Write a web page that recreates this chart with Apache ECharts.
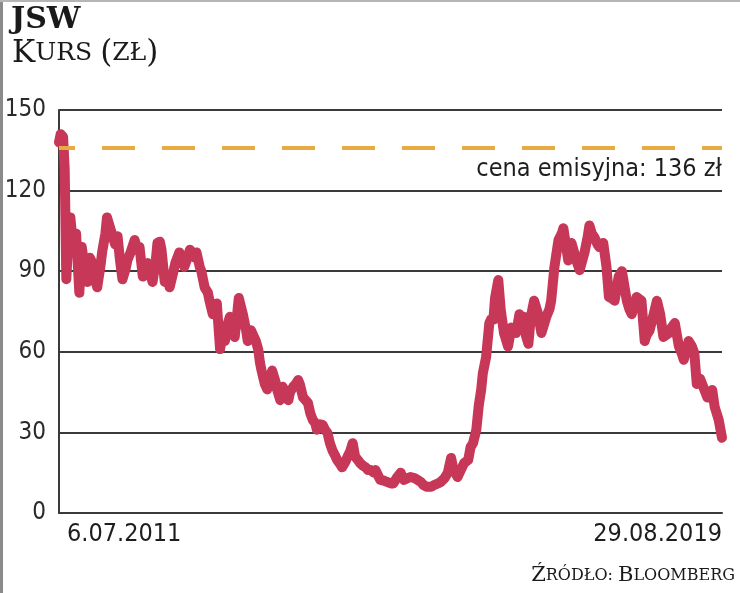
<!DOCTYPE html>
<html>
<head>
<meta charset="utf-8">
<script src="https://cdn.jsdelivr.net/npm/echarts@6/dist/echarts.min.js"></script>
<style>
  html, body { margin: 0; padding: 0; background: #fff; }
  #chart { width: 740px; height: 593px; }
</style>
</head>
<body>
<div id="chart"></div>
<script>
// czas (ułamek roku) i kurs JSW w zł
const years = [
  2011.51, 2011.53, 2011.56, 2011.58, 2011.60, 2011.62, 2011.65, 2011.68, 2011.72, 2011.76,
  2011.79, 2011.83, 2011.86, 2011.89, 2011.92, 2011.95, 2011.98, 2012.02, 2012.04, 2012.08,
  2012.10, 2012.14, 2012.16, 2012.20, 2012.23, 2012.26, 2012.29, 2012.33, 2012.35, 2012.39,
  2012.44, 2012.47, 2012.50, 2012.54, 2012.57, 2012.60, 2012.63, 2012.66, 2012.70, 2012.72,
  2012.75, 2012.77, 2012.81, 2012.84, 2012.87, 2012.91, 2012.94, 2012.99, 2013.03, 2013.05,
  2013.09, 2013.12, 2013.14, 2013.18, 2013.20, 2013.24, 2013.26, 2013.30, 2013.34, 2013.36,
  2013.40, 2013.45, 2013.49, 2013.52, 2013.55, 2013.58, 2013.61, 2013.65, 2013.67, 2013.70,
  2013.72, 2013.77, 2013.81, 2013.83, 2013.87, 2013.89, 2013.93, 2013.96, 2013.98, 2014.00,
  2014.04, 2014.07, 2014.10, 2014.13, 2014.17, 2014.19, 2014.23, 2014.26, 2014.29, 2014.33,
  2014.35, 2014.39, 2014.42, 2014.45, 2014.47, 2014.51, 2014.54, 2014.57, 2014.60, 2014.63,
  2014.66, 2014.68, 2014.72, 2014.75, 2014.78, 2014.81, 2014.84, 2014.87, 2014.91, 2014.93,
  2014.97, 2014.99, 2015.03, 2015.05, 2015.09, 2015.12, 2015.15, 2015.19, 2015.21, 2015.25,
  2015.28, 2015.31, 2015.34, 2015.38, 2015.40, 2015.44, 2015.46, 2015.51, 2015.55, 2015.59,
  2015.62, 2015.66, 2015.71, 2015.75, 2015.80, 2015.83, 2015.88, 2015.92, 2015.96, 2015.99,
  2016.03, 2016.05, 2016.09, 2016.12, 2016.17, 2016.20, 2016.25, 2016.29, 2016.33, 2016.36,
  2016.39, 2016.41, 2016.45, 2016.49, 2016.54, 2016.57, 2016.60, 2016.64, 2016.67, 2016.70,
  2016.72, 2016.76, 2016.80, 2016.82, 2016.85, 2016.87, 2016.91, 2016.94, 2016.98, 2017.01,
  2017.03, 2017.07, 2017.10, 2017.13, 2017.17, 2017.19, 2017.23, 2017.25, 2017.28, 2017.31,
  2017.35, 2017.40, 2017.44, 2017.47, 2017.50, 2017.54, 2017.56, 2017.60, 2017.65, 2017.69,
  2017.71, 2017.75, 2017.77, 2017.81, 2017.83, 2017.87, 2017.91, 2017.93, 2017.97, 2018.01,
  2018.03, 2018.06, 2018.09, 2018.13, 2018.15, 2018.20, 2018.24, 2018.27, 2018.30, 2018.34,
  2018.39, 2018.43, 2018.45, 2018.49, 2018.52, 2018.55, 2018.59, 2018.61, 2018.67, 2018.71,
  2018.73, 2018.77, 2018.82, 2018.86, 2018.90, 2018.94, 2019.01, 2019.04, 2019.08, 2019.13,
  2019.17, 2019.19, 2019.25, 2019.29, 2019.32, 2019.35, 2019.39, 2019.41, 2019.48, 2019.51,
  2019.54, 2019.57, 2019.62, 2019.66
]
const prices = [
  138, 141, 140, 128, 87, 100, 110, 100, 104, 82,
  99, 90, 86, 95, 93, 88, 84, 92, 97, 104,
  110, 106, 106, 100, 103, 94, 87, 91, 94, 97,
  101.6, 98, 99, 88, 91, 93, 89, 86, 94, 100.5,
  101, 98, 86, 88, 84, 89, 93, 97, 94, 91.6,
  95, 98, 97, 95, 97, 91.6, 90, 84, 82, 79,
  74, 78, 61, 66, 64, 70, 73, 68, 65.5, 74,
  80, 74, 68, 64, 68, 68, 64, 60.7, 56, 53,
  48, 46, 50, 53, 49, 46, 42, 47, 45, 42,
  45, 47, 48, 49.5, 48, 43, 42, 41, 37, 34.6,
  33.5, 31, 33, 32.8, 31, 29.8, 26, 23.4, 21, 19.7,
  18, 17, 19, 20.5, 23, 26, 21, 19.5, 18.6, 17.5,
  17, 16, 16, 15, 16, 13.5, 12.3, 12, 11.5, 11,
  11, 13, 15, 12.3, 13, 13.4, 13, 12.3, 11.5, 10.4,
  9.8, 9.3, 9.8, 10.4, 11, 11.5, 13, 15, 20.5, 16,
  14.5, 13.4, 16, 18.6, 19.7, 24.6, 26, 31, 40, 46,
  52, 58, 70.7, 72, 72, 80, 86.7, 75.6, 67, 64,
  62, 69, 68, 67, 74, 72, 73, 66, 63, 73,
  79, 74, 67, 70, 73, 76, 79, 91.6, 101.6, 104,
  106, 98, 94, 100.5, 100.5, 94, 90.4, 90.4, 97, 103,
  107, 104, 102.7, 100, 99, 100.5, 91.6, 80.4, 80, 79,
  88, 90, 90.4, 79, 76, 74, 78, 80.4, 79, 64,
  66, 68, 74, 79, 74, 65.5, 67, 69, 70.7, 62,
  59, 57, 64, 62, 59.5, 48, 50, 50.6, 43, 45,
  45.8, 39.5, 34.6, 28
]
const yTicks = [0, 30, 60, 90, 120, 150]
const xLabelValues = [2011.51, 2019.66]
const xLabels = ['6.07.2011', '29.08.2019']
const issuePrice = 136

const chart = echarts.init(document.getElementById('chart'))

const axisFont = '"DejaVu Sans Condensed", "DejaVu Sans", sans-serif'
const slabFont = '"DejaVu Serif", "Liberation Serif", serif'

const option = {
  animation: false,
  backgroundColor: '#fff',
  title: [
    {
      text: 'JSW',
      left: 6,
      top: 0,
      textStyle: { fontFamily: slabFont, fontWeight: 'bold', fontSize: 30, color: '#1a1a1a' }
    },
    {
      text: '{a|K}{b|URS }{a|(}{b|ZŁ}{a|)}',
      left: 7,
      top: 33,
      textStyle: {
        fontWeight: 'normal',
        rich: {
          a: { fontFamily: slabFont, fontWeight: 'normal', fontSize: 31, color: '#1a1a1a' },
          b: { fontFamily: slabFont, fontWeight: 'normal', fontSize: 25, color: '#1a1a1a' }
        }
      }
    },
    {
      text: '{a|Ź}{b|RÓDŁO: }{a|B}{b|LOOMBERG}',
      right: 0,
      bottom: 2,
      textStyle: {
        fontWeight: 'normal',
        rich: {
          a: { fontFamily: slabFont, fontWeight: 'normal', fontSize: 21, color: '#1a1a1a' },
          b: { fontFamily: slabFont, fontWeight: 'normal', fontSize: 16, color: '#1a1a1a' }
        }
      }
    }
  ],
  graphic: [
    { type: 'rect', left: 0, top: 0, shape: { width: 3, height: 593 }, style: { fill: '#8a8a8a' } },
    { type: 'rect', left: 0, top: 0, shape: { width: 740, height: 2 }, style: { fill: '#b5b5b5' } }
  ],
  grid: { left: 59, right: 18, top: 110, bottom: 80 },
  xAxis: {
    type: 'value',
    min: xLabelValues[0],
    max: xLabelValues[1],
    axisLine: { show: true, onZero: false, lineStyle: { color: '#3a3a3a', width: 2 } },
    axisTick: { show: false },
    splitLine: { show: false },
    axisLabel: {
      customValues: xLabelValues,
      formatter: v => xLabels[xLabelValues.indexOf(v)] ?? '',
      alignMinLabel: 'left',
      alignMaxLabel: 'right',
      padding: [0, 0, 0, 8],
      margin: 9,
      fontFamily: axisFont,
      fontSize: 25,
      color: '#1e1e1e'
    }
  },
  yAxis: {
    type: 'value',
    min: yTicks[0],
    max: yTicks[yTicks.length - 1],
    interval: 30,
    axisLine: { show: true, lineStyle: { color: '#3a3a3a', width: 2 } },
    axisTick: { show: false },
    splitLine: { show: true, lineStyle: { color: '#3a3a3a', width: 2 } },
    axisLabel: {
      margin: 13,
      fontFamily: axisFont,
      fontSize: 24,
      color: '#2a2a2a'
    }
  },
  series: [
    {
      name: 'JSW',
      type: 'line',
      data: years.map((y, i) => [y, prices[i]]),
      showSymbol: false,
      z: 2,
      lineStyle: { color: '#c63758', width: 10, cap: 'round', join: 'round' }
    },
    {
      name: 'cena emisyjna',
      type: 'line',
      data: [],
      z: 5,
      markLine: {
        silent: true,
        symbol: 'none',
        lineStyle: { color: '#e8aa42', width: 4, type: [33, 27], dashOffset: 17 },
        label: {
          show: true,
          position: 'insideEndBottom',
          distance: [0, 9],
          formatter: 'cena emisyjna: ' + issuePrice + ' zł',
          fontFamily: axisFont,
          fontSize: 25,
          color: '#1e1e1e'
        },
        data: [{ yAxis: issuePrice }]
      }
    }
  ]
}

chart.setOption(option)
</script>
</body>
</html>
